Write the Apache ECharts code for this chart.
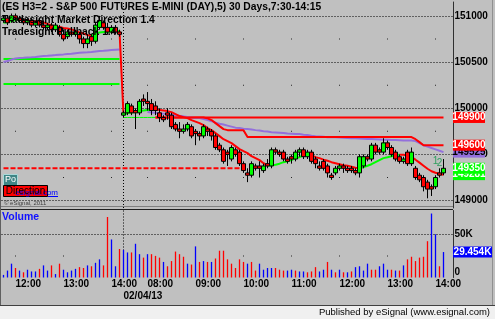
<!DOCTYPE html>
<html>
<head>
<meta charset="utf-8">
<script src="https://cdn.jsdelivr.net/npm/echarts@6/dist/echarts.min.js"></script>
<style>
html,body{margin:0;padding:0;background:#c0c0c0;overflow:hidden;}
#chart{width:495px;height:319px;}
</style>
</head>
<body>
<div id="chart"></div>
<script>
// ---------- texts ----------
const titleText = '(ES H3=2 - S&P 500 FUTURES E-MINI (DAY),5) 30 Days,7:30-14:15';
const studyNames = ['Tradesight Market Direction 1.4', 'Tradesight Pullback 1.4'];
const footerText = 'Published by eSignal (www.esignal.com)';
const copyrightText = '\u00a9 eSignal, 2011';
const day1Date = '02/01/13';
const day2Date = '02/04/13';
const day1Session = {start: '11:45', bars: 30};
const day2Session = {start: '07:30', bars: 81};
const padBars = 2;

// ---------- axis ticks ----------
const priceTicks = [149000, 149500, 150000, 150500, 151000];
const priceMinorTicks = [149250, 149750, 150250, 150750];
const volumeTickLabels = {0: '0', 50: '50K'};
const volumeMinorTicks = [25];

// ---------- candles (5 min) ----------
const opens = [
150950,150975,150950,151000,150975,150950,150925,150950,150900,150950,
150900,150875,150900,150850,150875,150800,150775,150825,150800,150800,
150750,150700,150775,150725,150875,150925,150875,150825,150875,150825,
149925,149950,150025,149975,149950,150100,150075,150050,150025,149950,
149900,149950,149925,149825,149775,149750,149775,149800,149750,149725,
149700,149775,149750,149700,149600,149550,149525,149450,149550,149525,
149400,149300,149275,149375,149375,149325,149400,149375,149550,149525,
149525,149450,149475,149450,149525,149550,149475,149525,149450,149375,
149425,149375,149275,149300,149350,149375,149350,149350,149325,149300,
149375,149475,149450,149600,149550,149525,149625,149575,149525,149475,
149425,149525,149400,149350,149275,149250,149200,149150,149150,149300,149300];
const highs = [
151000,151000,151025,151025,151000,150975,150975,150975,150950,150975,
150950,150925,150925,150925,150900,150850,150850,150850,150850,150825,
150775,150800,150800,150925,151000,150950,150925,150900,150900,150850,
149975,150075,150050,150000,150100,150150,150175,150100,150075,150000,
149925,150000,149950,149850,149850,149825,149850,149825,149775,149750,
149825,149800,149775,149725,149625,149575,149550,149600,149575,149550,
149425,149350,149425,149400,149425,149400,149450,149575,149575,149550,
149550,149475,149500,149550,149575,149575,149550,149550,149475,149425,
149450,149400,149300,149375,149400,149400,149375,149375,149350,149500,
149500,149500,149625,149625,149575,149675,149650,149600,149550,149500,
149475,149550,149575,149375,149300,149275,149225,149175,149275,149350,149450];
const lows = [
150925,150900,150925,150950,150925,150900,150900,150875,150875,150875,
150850,150850,150825,150825,150775,150725,150750,150775,150775,150700,
150650,150650,150675,150700,150850,150850,150800,150800,150800,150775,
149900,149925,149925,149775,149925,150025,149975,149925,149925,149850,
149850,149875,149775,149750,149675,149725,149750,149675,149600,149650,
149675,149700,149650,149550,149525,149400,149375,149425,149475,149375,
149300,149200,149250,149325,149250,149300,149350,149350,149500,149475,
149425,149400,149400,149425,149475,149450,149450,149400,149350,149325,
149325,149250,149225,149275,149325,149300,149300,149300,149275,149250,
149350,149425,149425,149500,149500,149500,149550,149475,149425,149400,
149400,149375,149375,149225,149200,149100,149025,149050,149125,149250,149275];
const closes = [
150975,150925,151000,150975,150950,150925,150950,150900,150925,150900,
150875,150900,150850,150900,150800,150750,150825,150800,150825,150750,
150700,150750,150725,150900,150950,150875,150825,150875,150825,150800,
149950,150050,149950,149950,150075,150075,150050,149975,149975,149900,
149875,149925,149800,149775,149750,149775,149825,149700,149725,149700,
149800,149750,149700,149575,149550,149425,149500,149575,149500,149400,
149325,149275,149400,149350,149350,149375,149375,149550,149525,149500,
149450,149425,149450,149525,149550,149475,149525,149425,149400,149350,
149350,149300,149250,149350,149375,149350,149325,149325,149300,149475,
149475,149450,149600,149525,149525,149625,149575,149500,149450,149425,
149450,149400,149525,149250,149225,149150,149125,149125,149250,149275,149350];

// ---------- volume (thousands) ----------
const volumes = [
3,8,16,11,8,6,9,7,7,10,
14,8,14,4,16,9,6,8,10,12,
11,14,13,17,21,14,70,44,13,33,
32,29,29,39,27,23,27,27,25,23,
18,13,19,30,27,24,16,15,36,18,
19,18,18,22,31,31,21,16,11,21,
18,16,18,8,16,9,11,11,11,9,
8,8,9,8,7,7,6,7,12,7,
9,18,9,6,9,6,6,7,12,13,
8,16,9,9,13,16,9,9,8,8,
14,21,24,19,23,24,42,74,50,13,29.454];
const volumeUp = [
1,1,1,0,1,0,1,1,1,0,
1,1,0,1,0,1,1,1,1,0,
0,1,0,1,1,0,0,1,1,0,
1,1,0,1,1,0,1,0,0,0,
1,0,0,0,0,0,1,0,1,0,
1,0,1,0,0,0,0,0,0,0,
0,1,0,0,1,1,1,1,0,0,
0,1,1,0,1,1,0,0,0,1,
1,0,1,0,1,0,1,0,1,1,
1,1,0,0,1,1,1,0,1,0,
1,0,0,0,0,0,0,1,1,0,1];

// ---------- studies ----------
const marketDirection = [
150924,150934,150945,150956,150967,150956,150951,150945,150940,150934,
150929,150913,150896,150886,150880,150869,150864,150853,150837,150820,
150810,150793,150783,150810,150820,150826,150826,150831,150837,150837,
149926,149947,149953,149958,149969,149975,149980,149980,149985,149980,
149975,149969,149958,149937,149915,149904,149893,149871,149855,149839,
149818,149785,149763,149731,149698,149665,149644,149622,149590,149557,
149535,149514,149481,149460,149438,149405,149378,149383,149389,149400,
149416,149427,149438,149460,149470,149492,149503,149492,149470,149460,
149443,149432,149416,149405,149394,149383,149378,149367,149356,149351,
149362,149378,149394,149416,149438,149460,149470,149481,149492,149497,
149497,149487,149470,149443,149411,149378,149345,149318,149302,149291,149281];
const marketDirectionBreaks = [4, 22, 29, 30, 38, 66, 76, 89, 99];

const levelADay1 = 150262;
const levelADay2 = 149900;
const levelARedFrom = 38;
const levelBDay1 = 150533;
const levelBDay2From = 38;
const levelBDay2 = [
149900,149900,149900,149900,149900,149900,149900,149900,149900,149900,
149900,149900,149900,149890,149872,149839,149806,149774,149763,149763,
149763,149763,149763,149688,149688,149688,149688,149688,149688,149688,
149688,149688,149688,149688,149688,149688,149688,149688,149688,149688,
149688,149688,149688,149688,149688,149688,149688,149688,149688,149688,
149688,149688,149688,149688,149688,149688,149688,149688,149688,149688,
149688,149688,149688,149688,149688,149665,149633,149600,149600,149600,
149600,149600,149600];
const purpleDay1 = [
150501,150511,150528,150538,150544,150546,150550,150552,150555,150560,
150565,150568,150572,150575,150580,150583,150588,150590,150595,150600,
150604,150606,150610,150615,150620,150622,150626,150630,150633,150636];
const purpleDay2From = 36;
const purpleDay2 = [
149960,149955,149950,149945,149940,149935,149930,149925,149918,149912,
149905,149900,149895,149893,149882,149871,149860,149844,149833,149823,
149812,149801,149790,149785,149779,149774,149769,149763,149758,149752,
149747,149741,149738,149735,149731,149727,149724,149720,149720,149714,
149709,149703,149698,149695,149692,149687,149687,149685,149683,149680,
149678,149676,149674,149672,149670,149668,149666,149664,149662,149660,
149658,149656,149655,149654,149652,149651,149650,149644,149622,149600,
149585,149570,149555,149540,149525];
const dashedLevel = 149350;
const dashedLevelTo = 60;
const pullbackMarks = [{k: 108, price: 149425, text: '1'}, {k: 109, price: 149400, text: '2'}];

// ---------- build ----------
const FONT = '"Liberation Sans", Arial, Helvetica, sans-serif';
const GREEN = '#00ff00', RED = '#ff0000', PURPLE = '#9370db', BLUE = '#0000ff';

function sessionTimes(start, n) {
  const [h, m] = start.split(':').map(Number);
  const out = [];
  for (let i = 0; i < n; i++) {
    const t = h * 60 + m + 5 * i;
    out.push(String(Math.floor(t / 60)).padStart(2, '0') + ':' + String(t % 60).padStart(2, '0'));
  }
  return out;
}
const cats = [
  ...sessionTimes(day1Session.start, day1Session.bars).map(t => day1Date + ' ' + t),
  ...sessionTimes(day2Session.start, day2Session.bars).map(t => day2Date + ' ' + t)
];
for (let i = 0; i < padBars; i++) cats.push('pad' + i);
const nBars = opens.length;
const day2Idx = day1Session.bars;
const hourIdx = [];
cats.forEach((c, i) => { if (i < nBars && c.endsWith(':00')) hourIdx.push(i); });
const lastCat = cats[cats.length - 1];

function rangeData(from, to, valAt) {
  const d = [];
  for (let i = 0; i < nBars; i++) d.push(i >= from && i <= to ? valAt(i) : null);
  return d;
}
function lineSeries(name, data, color, width, z, extra) {
  return Object.assign({
    name, type: 'line', xAxisIndex: 0, yAxisIndex: 0, data,
    showSymbol: false, symbol: 'none', connectNulls: false, silent: true, z: z || 2,
    lineStyle: {color, width: width || 2}, itemStyle: {color}
  }, extra || {});
}
function valueBox(value, text, bg, fg, z, offsetX, w) {
  return {
    z, silent: true,
    symbol: 'rect', symbolSize: [w || 32, 11], symbolOffset: [offsetX || 17.5, 0],
    itemStyle: {color: bg},
    label: {show: true, position: 'inside', color: fg, fontFamily: FONT, fontSize: 10, fontWeight: 'bold', formatter: text},
    data: [{coord: [lastCat, value], value}]
  };
}

const series = [];
// sparse grid dots
const dots0 = [];
hourIdx.forEach(i => priceMinorTicks.forEach(v => dots0.push([cats[i], v])));
series.push({type: 'scatter', xAxisIndex: 0, yAxisIndex: 0, data: dots0, symbol: 'rect', symbolSize: 1, itemStyle: {color: '#000'}, silent: true, z: 1});
const dots1 = [];
hourIdx.forEach(i => volumeMinorTicks.forEach(v => dots1.push([cats[i], v])));
series.push({type: 'scatter', xAxisIndex: 1, yAxisIndex: 1, data: dots1, symbol: 'rect', symbolSize: 1, itemStyle: {color: '#000'}, silent: true, z: 1});

// dashed red level
series.push(lineSeries('dashed', rangeData(0, dashedLevelTo, () => dashedLevel), RED, 2, 2, {lineStyle: {color: RED, width: 2, type: [5, 2]}}));

// level A
series.push(lineSeries('A1', rangeData(0, day2Idx - 1, () => levelADay1), GREEN, 2));
series.push(lineSeries('A2', rangeData(day2Idx, levelARedFrom, () => levelADay2), GREEN, 1));
series.push(lineSeries('A3', rangeData(levelARedFrom, nBars - 1, () => levelADay2), RED, 2, 2,
  {markPoint: valueBox(levelADay2, String(levelADay2), RED, '#fff', 7)}));

// level B
series.push(lineSeries('B1', rangeData(0, day2Idx - 1, () => levelBDay1), GREEN, 2));
series.push(lineSeries('B2', rangeData(levelBDay2From, nBars - 1, i => levelBDay2[i - levelBDay2From]), RED, 2, 3,
  {markPoint: valueBox(levelBDay2[levelBDay2.length - 1], String(levelBDay2[levelBDay2.length - 1]), RED, '#fff', 8)}));

// purple
const purpleData = rangeData(0, nBars - 1, i => i < day2Idx ? purpleDay1[i] : (i >= purpleDay2From ? purpleDay2[i - purpleDay2From] : null));
series.push(lineSeries('purple', purpleData, PURPLE, 2, 2,
  {markPoint: valueBox(purpleDay2[purpleDay2.length - 1], String(purpleDay2[purpleDay2.length - 1]), PURPLE, '#000', 6)}));

// market direction line coloured by segment
const bounds = [0, ...marketDirectionBreaks, nBars - 1];
for (let j = 0; j < bounds.length - 1; j++) {
  const s = bounds[j], e = bounds[j + 1];
  const col = j % 2 === 0 ? GREEN : RED;
  const isLast = j === bounds.length - 2;
  series.push(lineSeries('D' + j, rangeData(s, e, i => marketDirection[i]), col, 2, 3,
    isLast ? {markPoint: valueBox(marketDirection[nBars - 1], String(marketDirection[nBars - 1]), GREEN, '#fff', 6)} : {}));
}

// candles
const lastClose = closes[nBars - 1];
series.push({
  name: 'price', type: 'candlestick', xAxisIndex: 0, yAxisIndex: 0, z: 4, silent: true,
  barWidth: 3.6,
  data: opens.map((o, i) => [o, closes[i], lows[i], highs[i]]),
  itemStyle: {color: GREEN, color0: RED, borderColor: '#000', borderColor0: '#000', borderWidth: 1},
  markLine: {
    silent: true, symbol: 'none', z: 1, animation: false,
    lineStyle: {type: [1, 2], color: '#000', width: 1},
    label: {show: true, position: 'end', distance: 1, color: '#000', fontFamily: FONT, fontSize: 10, fontWeight: 'bold', formatter: p => String(p.value)},
    data: priceTicks.map(v => ({yAxis: v})).concat([{xAxis: cats[day2Idx], label: {show: false}}])
  },
  markPoint: {
    z: 9, silent: true, animation: false,
    data: [{
      coord: [lastCat, lastClose], value: lastClose,
      symbol: 'rect', symbolSize: [32, 11], symbolOffset: [17.5, 0], itemStyle: {color: GREEN},
      label: {show: true, position: 'inside', color: '#fff', fontFamily: FONT, fontSize: 10, fontWeight: 'bold', formatter: String(lastClose)}
    }].concat(pullbackMarks.map(m => ({
      coord: [cats[m.k], m.price], value: m.price, symbol: 'rect', symbolSize: 0,
      itemStyle: {color: 'rgba(0,0,0,0)'},
      label: {show: true, position: 'inside', color: '#2e9e5e', fontFamily: FONT, fontSize: 10, formatter: m.text}
    })))
  }
});

// volume
series.push({
  name: 'volume', type: 'bar', xAxisIndex: 1, yAxisIndex: 1, silent: true, barWidth: 1.3, z: 3,
  data: volumes.map((v, i) => ({value: v, itemStyle: {color: volumeUp[i] ? BLUE : RED}})),
  markLine: {
    silent: true, symbol: 'none', z: 1, animation: false,
    lineStyle: {type: [1, 2], color: '#000', width: 1},
    label: {show: false},
    data: [{yAxis: 50}, {xAxis: cats[day2Idx]}]
  },
  markPoint: valueBox(volumes[nBars - 1], volumes[nBars - 1] + 'K', BLUE, '#fff', 7, 21, 39)
});

// ---------- decorations ----------
function gText(x, y, text, font, fill, align) {
  return {type: 'text', x, y, z: 100, silent: true, style: {text, font, fill, align: align || 'left', verticalAlign: 'middle'}};
}
function gLine(x1, y1, x2, y2, stroke, w) {
  return {type: 'line', z: 99, silent: true, shape: {x1, y1, x2, y2}, style: {stroke, lineWidth: w || 1}};
}
function gRect(x, y, w, h, fill, stroke) {
  return {type: 'rect', z: 99, silent: true, shape: {x, y, width: w, height: h}, style: {fill, stroke: stroke || null, lineWidth: stroke ? 1 : 0}};
}
const graphics = [
  gRect(0, 306, 495, 13, '#f0f0f0'),
  gLine(0, 305.5, 495, 305.5, '#404040'),
  gText(490, 312.5, footerText, '9.5px ' + FONT, '#000', 'right'),
  gLine(0.5, 0, 0.5, 305, '#606060'),
  gLine(492.5, 0, 492.5, 305, '#909090'),
  gLine(1, 206.5, 453, 206.5, '#808080'),
  gLine(1, 209.5, 453, 209.5, '#202020'),
  gText(2, 7.5, titleText, 'bold 10.3px ' + FONT, '#000'),
  gText(2, 20.5, studyNames[0], 'bold 10.3px ' + FONT, '#000'),
  gText(2, 32.5, studyNames[1], 'bold 10.3px ' + FONT, '#000'),
  gText(2, 217.5, 'Volume', 'bold 10.5px ' + FONT, '#1010ff'),
  gText(58, 192.5, 'esignal.com', '8px ' + FONT, '#0000ff', 'right'),
  gLine(48, 196.5, 58, 196.5, '#0000ff'),
  gRect(3.5, 174.5, 14, 11, '#3f8585', '#a8d8d8'),
  gText(10.5, 180, 'Po', '9px ' + FONT, '#fff', 'center'),
  gRect(3.5, 185.5, 44, 11, RED, '#000'),
  gText(25.5, 191, 'Direction', '10px ' + FONT, '#000', 'center'),
  gText(4, 203, copyrightText, '6px ' + FONT, '#404040')
];

const option = {
  animation: false,
  backgroundColor: '#c0c0c0',
  grid: [
    {left: 1.5, top: 2, width: 452, height: 206},
    {left: 1.5, top: 210.5, width: 452, height: 67}
  ],
  xAxis: [
    {type: 'category', gridIndex: 0, data: cats, boundaryGap: true,
     axisLine: {show: false}, axisTick: {show: false}, axisLabel: {show: false}, splitLine: {show: false}},
    {type: 'category', gridIndex: 1, data: cats, boundaryGap: true,
     axisLine: {show: false}, axisTick: {show: false}, splitLine: {show: false},
     axisLabel: {
       show: true, align: 'left', margin: 2, hideOverlap: false,
       interval: (i) => hourIdx.includes(i) || i === day2Idx,
       formatter: (v, i) => i === day2Idx ? '{d|' + day2Date + '}' : '{t|' + v.slice(-5) + '}',
       rich: {
         t: {fontFamily: FONT, fontSize: 10, fontWeight: 'bold', color: '#000'},
         d: {fontFamily: FONT, fontSize: 10, fontWeight: 'bold', color: '#000', padding: [12, 0, 0, 0]}
       }
     }}
  ],
  yAxis: [
    {type: 'value', gridIndex: 0, position: 'right', min: 148920, max: 151150, scale: true,
     axisLine: {show: true, lineStyle: {color: '#303030', width: 1}}, axisTick: {show: false},
     axisLabel: {show: false}, splitLine: {show: false}},
    {type: 'value', gridIndex: 1, position: 'right', min: 0, max: 77.5, interval: 50,
     axisLine: {show: true, lineStyle: {color: '#303030', width: 1}}, axisTick: {show: false},
     splitLine: {show: false},
     axisLabel: {
       show: true, margin: 1,
       formatter: v => v === 0 ? '{z|' + volumeTickLabels[0] + '}' : (volumeTickLabels[v] ? '{k|' + volumeTickLabels[v] + '}' : ''),
       rich: {
         k: {fontFamily: FONT, fontSize: 10, fontWeight: 'bold', color: '#000'},
         z: {fontFamily: FONT, fontSize: 10, fontWeight: 'bold', color: '#000', padding: [0, 0, 11, 0]}
       }
     }}
  ],
  series,
  graphic: graphics
};

const chart = echarts.init(document.getElementById('chart'), null, {renderer: 'canvas', width: 495, height: 319});
chart.setOption(option);
</script>
</body>
</html>
